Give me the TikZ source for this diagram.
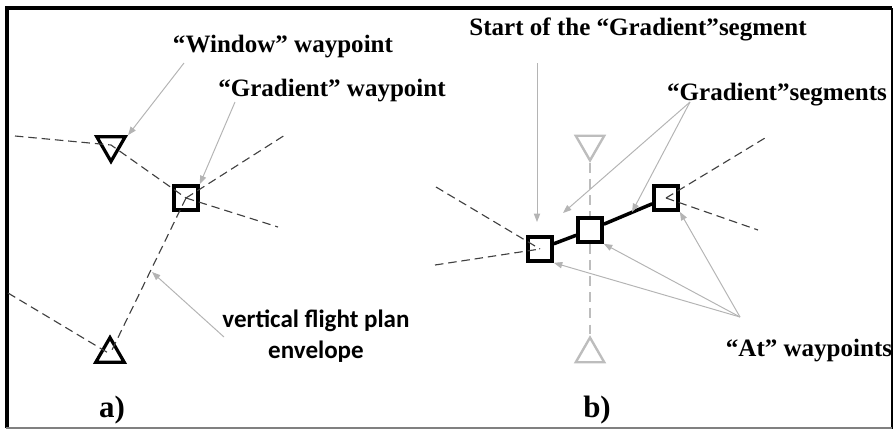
\documentclass[tikz,border=0pt]{standalone}
\usepackage{fontspec}
\setmainfont{Liberation Serif}
\newfontfamily\calibrifont{Carlito}
\usetikzlibrary{shapes.geometric,arrows.meta}
\definecolor{pathgray}{HTML}{404040}
\definecolor{arrowgray}{HTML}{B4B4B4}
\definecolor{ghostgray}{HTML}{BDBDBD}

\begin{document}
\begin{tikzpicture}[x=0.025cm,y=-0.025cm,
  wpsquare/.style={draw,line width=2.6pt,minimum size=0.6cm,inner sep=0pt},
  wptri/.style={regular polygon,regular polygon sides=3,draw,line width=2.3pt,minimum size=0.82cm,inner sep=0pt},
  wpdown/.style={wptri,shape border rotate=180},
  ghosttri/.style={wptri,draw=ghostgray,line width=1.7pt},
  envline/.style={pathgray,line width=0.8pt,dash pattern=on 6pt off 3.5pt},
  ghostline/.style={ghostgray,line width=1.8pt,dash pattern=on 7pt off 4.5pt},
  segline/.style={line width=2.5pt},
  pointer/.style={arrowgray,line width=0.7pt,-{Triangle[length=6pt,width=4.5pt]}},
  lbl/.style={font=\fontsize{17.8}{20}\selectfont\bfseries,anchor=base,inner sep=0pt},
  sublbl/.style={font=\fontsize{22}{24}\selectfont\bfseries,anchor=base,inner sep=0pt}]
\useasboundingbox (0,0) rectangle (893,429);

% frame
\draw[line width=2.2pt] (7,428) -- (7,8) -- (892,8);
\draw[line width=1.1pt] (892,8) -- (892,429);
\draw[gray,line width=1.1pt] (6,428) -- (892,428);

% a) waypoints
\node[wpdown] (win) at (111,145) {};
\node[wpsquare] (grad) at (186,198) {};
\node[wptri] (low) at (110,354) {};
\coordinate (aL1) at (15,136);
\coordinate (aL2) at (8,293);
\coordinate (aR1) at (285,135);
\coordinate (aR2) at (278,227);
\draw[envline] (aL1) -- (win.center) -- (grad.center);
\draw[envline] (grad.center) -- (aR1);
\draw[envline] (grad.center) -- (aR2);
\draw[envline] (grad.center) -- (low.center);
\draw[envline] (aL2) -- (low.center);

% a) labels
\node[lbl] (lblwin) at (283,52) {“Window” waypoint};
\node[lbl] (lblgrad) at (332,96) {“Gradient” waypoint};
\node[lbl,font=\calibrifont\fontsize{17.8}{21.5}\selectfont\bfseries,align=center] (lblenv) at (316,358) {vertical flight plan\\envelope};
\node[sublbl] (suba) at (112,417) {a)};
\coordinate (winFrom) at (184,63);
\coordinate (gradFrom) at (235,102);
\coordinate (envFrom) at (224,337);
\coordinate (envTo) at (152,272);
\draw[pointer] (winFrom) -- (win.corner 2);
\draw[pointer] (gradFrom) -- (grad.north east);
\draw[pointer] (envFrom) -- (envTo);

% b) waypoints
\node[ghosttri,shape border rotate=180] (gwin) at (590,144) {};
\node[ghosttri] (glow) at (590,354) {};
\draw[ghostline] (gwin.corner 1) -- (glow.corner 1);
\node[wpsquare,fill=white] (at1) at (540,249) {};
\node[wpsquare,fill=white] (at2) at (590,230) {};
\node[wpsquare,fill=white] (at3) at (666,198) {};
\draw[segline] (at1) -- (at2);
\draw[segline] (at2) -- (at3);
\coordinate (bL1) at (436,187);
\coordinate (bL2) at (435,265);
\coordinate (bR1) at (765,138);
\coordinate (bR2) at (758,230);
\draw[envline] (bL1) -- (at1.center);
\draw[envline] (bL2) -- (at1.center);
\draw[envline] (at3.center) -- (bR1);
\draw[envline] (at3.center) -- (bR2);

% b) labels
\node[lbl] (lblstart) at (638,35) {Start of the “Gradient”segment};
\node[lbl] (lblseg) at (777,100) {“Gradient”segments};
\node[lbl] (lblat) at (809,356) {“At” waypoints};
\node[sublbl] (subb) at (597,417) {b)};
\coordinate (startFrom) at (537,63);
\coordinate (startTo) at (537,222);
\coordinate (segFrom) at (690,102);
\coordinate (segTo1) at (563,213);
\coordinate (segTo2) at (632,212);
\coordinate (atFrom) at (740,317);
\draw[pointer] (startFrom) -- (startTo);
\draw[pointer] (segFrom) -- (segTo1);
\draw[pointer] (segFrom) -- (segTo2);
\draw[pointer] (atFrom) -- (at1.south east);
\draw[pointer] (atFrom) -- (at2.south east);
\draw[pointer] (atFrom) -- (at3.south east);
\end{tikzpicture}
\end{document}
